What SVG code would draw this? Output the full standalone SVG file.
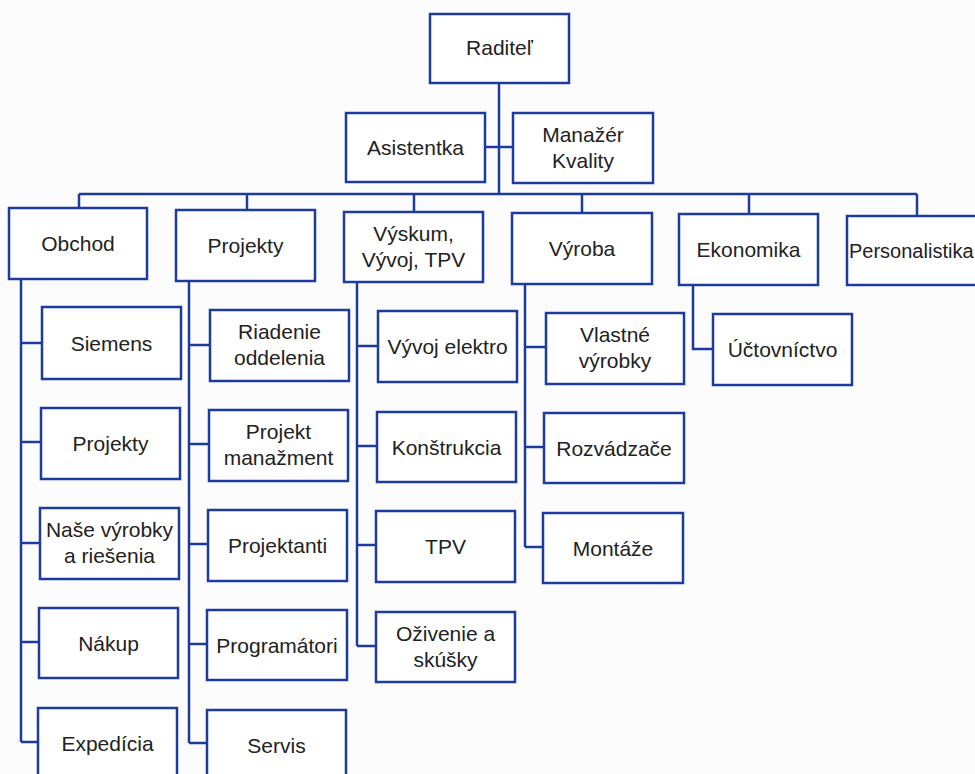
<svg xmlns="http://www.w3.org/2000/svg" width="975" height="774" viewBox="0 0 975 774">
<style>
.b{fill:#fff;stroke:#1d3b9c;stroke-width:2.5}
.c{fill:none;stroke:#1d3b9c;stroke-width:2.5}
text{font-family:"Liberation Sans",Arial,sans-serif;font-size:21px;fill:#222;text-anchor:middle}
</style>
<rect width="975" height="774" fill="#fcfcfd"/>
<g id="connectors" class="c">
<path d="M499,83V194M485,147H513M79,194H917M79,194V208M247,194V210M414,194V212M582,194V213M749,194V214M917,194V216"/>
<path d="M21,279V742M21,343H42M21,442H41M21,543H40M21,642H39M21,742H38"/>
<path d="M189,281V743M189,345H210M189,444H209M189,544H208M189,644H207M189,743H207"/>
<path d="M357,282V646M357,346H378M357,446H377M357,545H376M357,646H376"/>
<path d="M525,284V547M525,347H546M525,447H544M525,547H543"/>
<path d="M693,285V349H713"/>
</g>
<g id="raditel"><rect class="b" x="430" y="14" width="139" height="69"/><text x="499.5" y="55">Raditeľ</text></g>
<g id="asistentka"><rect class="b" x="346" y="113" width="139" height="69"/><text x="415.5" y="155">Asistentka</text></g>
<g id="manazer"><rect class="b" x="513" y="113" width="140" height="70"/><text x="583" y="142">Manažér</text><text x="583" y="168">Kvality</text></g>
<g id="obchod"><rect class="b" x="9" y="208" width="138" height="71"/><text x="78" y="251">Obchod</text></g>
<g id="projekty"><rect class="b" x="176" y="210" width="139" height="71"/><text x="245.5" y="253">Projekty</text></g>
<g id="vyskum"><rect class="b" x="344" y="212" width="139" height="70"/><text x="413.5" y="241">Výskum,</text><text x="413.5" y="267">Vývoj, TPV</text></g>
<g id="vyroba"><rect class="b" x="512" y="213" width="140" height="71"/><text x="582" y="256">Výroba</text></g>
<g id="ekonomika"><rect class="b" x="679" y="214" width="139" height="71"/><text x="748.5" y="257">Ekonomika</text></g>
<g id="personalistika"><rect class="b" x="847" y="216" width="150" height="69"/><text x="849" y="258" style="text-anchor:start;font-size:20px">Personalistika</text></g>
<g id="siemens"><rect class="b" x="42" y="307" width="139" height="72"/><text x="111.5" y="351">Siemens</text></g>
<g id="projekty2"><rect class="b" x="41" y="408" width="139" height="71"/><text x="110.5" y="451">Projekty</text></g>
<g id="nase"><rect class="b" x="40" y="508" width="139" height="71"/><text x="109.5" y="537">Naše výrobky</text><text x="109.5" y="563">a riešenia</text></g>
<g id="nakup"><rect class="b" x="39" y="608" width="139" height="70"/><text x="108.5" y="651">Nákup</text></g>
<g id="expedicia"><rect class="b" x="38" y="708" width="139" height="80"/><text x="107.5" y="751">Expedícia</text></g>
<g id="riadenie"><rect class="b" x="210" y="310" width="139" height="71"/><text x="279.5" y="339">Riadenie</text><text x="279.5" y="365">oddelenia</text></g>
<g id="projekt"><rect class="b" x="209" y="410" width="139" height="71"/><text x="278.5" y="439">Projekt</text><text x="278.5" y="465">manažment</text></g>
<g id="projektanti"><rect class="b" x="208" y="510" width="139" height="71"/><text x="277.5" y="553">Projektanti</text></g>
<g id="programatori"><rect class="b" x="207" y="610" width="140" height="70"/><text x="277" y="653">Programátori</text></g>
<g id="servis"><rect class="b" x="207" y="710" width="139" height="80"/><text x="276.5" y="753">Servis</text></g>
<g id="vyvoj"><rect class="b" x="378" y="311" width="139" height="71"/><text x="447.5" y="354">Vývoj elektro</text></g>
<g id="konstrukcia"><rect class="b" x="377" y="412" width="139" height="70"/><text x="446.5" y="455">Konštrukcia</text></g>
<g id="tpv"><rect class="b" x="376" y="511" width="139" height="71"/><text x="445.5" y="554">TPV</text></g>
<g id="ozivenie"><rect class="b" x="376" y="612" width="139" height="70"/><text x="445.5" y="641">Oživenie a</text><text x="445.5" y="667">skúšky</text></g>
<g id="vlastne"><rect class="b" x="546" y="313" width="138" height="71"/><text x="615" y="342">Vlastné</text><text x="615" y="368">výrobky</text></g>
<g id="rozvadzace"><rect class="b" x="544" y="413" width="140" height="70"/><text x="614" y="456">Rozvádzače</text></g>
<g id="montaze"><rect class="b" x="543" y="513" width="140" height="70"/><text x="613" y="556">Montáže</text></g>
<g id="uctovnictvo"><rect class="b" x="713" y="314" width="139" height="71"/><text x="782.5" y="357">Účtovníctvo</text></g>
</svg>
